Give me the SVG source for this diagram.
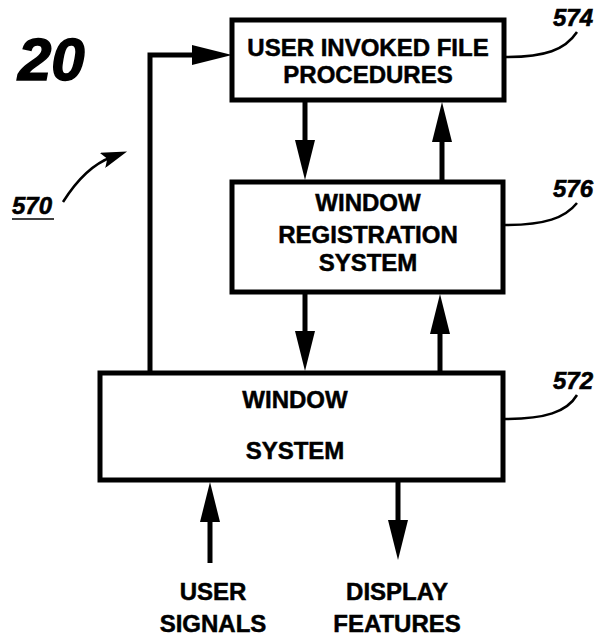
<svg xmlns="http://www.w3.org/2000/svg" width="603" height="640" viewBox="0 0 603 640">
<style>
.box{fill:#fff;stroke:#000;stroke-width:5}
.t{font-family:"Liberation Sans",Arial,sans-serif;font-weight:bold;font-size:24px;text-anchor:middle;fill:#000;stroke:#000;stroke-width:0.5}
.lbl{font-family:"Liberation Sans",Arial,sans-serif;font-weight:bold;font-style:italic;font-size:24px;fill:#000;stroke:#000;stroke-width:0.6}
.ln{fill:none;stroke:#000;stroke-width:5}
.ld{fill:none;stroke:#000;stroke-width:2.5}
</style>
<defs>
<marker id="ah" markerWidth="40" markerHeight="20" refX="20" refY="10" orient="auto" markerUnits="userSpaceOnUse">
<path d="M0,0 L40,10 L0,20 Z" fill="#000"/>
</marker>
<marker id="ah2" markerWidth="26" markerHeight="16" refX="10" refY="8" orient="auto" markerUnits="userSpaceOnUse">
<path d="M0,0 L26,8 L0,16 L5,8 Z" fill="#000"/>
</marker>
</defs>
<text x="18" y="80" font-family="Liberation Sans,Arial,sans-serif" font-weight="bold" font-style="italic" font-size="60" stroke="#000" stroke-width="1.5">20</text>
<g id="n574">
<rect class="box" x="232" y="20" width="272" height="80"/>
<text class="t" x="368" y="56">USER INVOKED FILE</text>
<text class="t" x="368" y="83">PROCEDURES</text>
<path class="ld" d="M506,57 C545,57 565,50 577,32"/>
<text class="lbl" x="553" y="26">574</text>
</g>
<g id="n576">
<rect class="box" x="232" y="182" width="271" height="110"/>
<text class="t" x="368" y="211">WINDOW</text>
<text class="t" x="368" y="243">REGISTRATION</text>
<text class="t" x="368" y="271">SYSTEM</text>
<path class="ld" d="M505,225 C545,225 565,218 577,203"/>
<text class="lbl" x="553" y="197">576</text>
</g>
<g id="n572">
<rect class="box" x="100" y="373" width="403" height="107"/>
<text class="t" x="295" y="408">WINDOW</text>
<text class="t" x="295" y="459">SYSTEM</text>
<path class="ld" d="M505,419 C545,419 567,412 577,395"/>
<text class="lbl" x="553" y="389">572</text>
</g>
<g id="n570">
<text class="lbl" x="12" y="214">570</text>
<line x1="12" y1="219" x2="54" y2="219" stroke="#000" stroke-width="1.5"/>
<path class="ld" d="M63,202 C80,175 98,162 112,157" marker-end="url(#ah2)"/>
</g>
<g id="inputs">
<text class="t" x="213" y="600">USER</text>
<text class="t" x="213" y="632">SIGNALS</text>
<text class="t" x="397" y="600">DISPLAY</text>
<text class="t" x="397" y="632">FEATURES</text>
</g>
<g id="connectors">
<path class="ln" d="M150,373 V55 H212" marker-end="url(#ah)"/>
<line class="ln" x1="305" y1="102" x2="305" y2="160" marker-end="url(#ah)"/>
<line class="ln" x1="442" y1="180" x2="442" y2="122" marker-end="url(#ah)"/>
<line class="ln" x1="305" y1="294" x2="305" y2="351" marker-end="url(#ah)"/>
<line class="ln" x1="440" y1="371" x2="440" y2="314" marker-end="url(#ah)"/>
<line class="ln" x1="210" y1="563" x2="210" y2="502" marker-end="url(#ah)"/>
<line class="ln" x1="398" y1="482" x2="398" y2="540" marker-end="url(#ah)"/>
</g>
</svg>
